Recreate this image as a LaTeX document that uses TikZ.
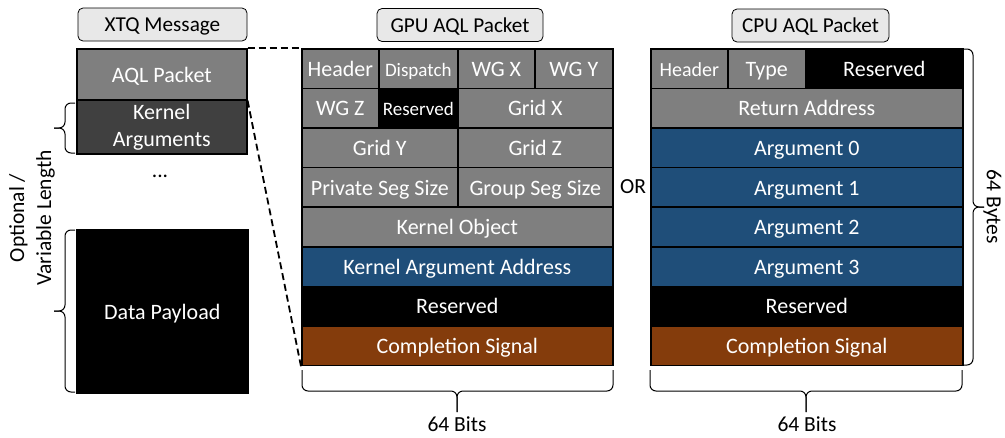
\documentclass[tikz,border=0pt]{standalone}
\usepackage{fontspec}
\setmainfont{Carlito}
\definecolor{cellgray}{HTML}{7F7F7F}
\definecolor{argdark}{HTML}{404040}
\definecolor{argblue}{HTML}{1F4E79}
\definecolor{sigbrown}{HTML}{843C0C}
\definecolor{titlegray}{HTML}{E8E8E8}

\begin{document}
\begin{tikzpicture}[x=1pt,y=-1pt,
  cell/.style={draw=black, line width=1.6pt, anchor=north west, inner sep=0pt, minimum height=39.6pt, text=white, text height=15.5pt, text depth=0pt, font=\fontsize{22}{26}\selectfont},
  small/.style={font=\fontsize{19}{22}\selectfont},
  title/.style={draw=black, line width=0.8pt, fill=titlegray, rounded corners=5pt, minimum height=33pt, inner sep=0pt, text height=15pt, text depth=1pt, font=\fontsize{21.2}{24}\selectfont},
  lbl/.style={inner sep=0pt, font=\fontsize{21.5}{27}\selectfont},
  brc/.style={line width=1pt, rounded corners=6pt},
  zoomline/.style={line width=1.8pt, dash pattern=on 7pt off 4pt}
]
\useasboundingbox (0,0) rectangle (1005,437);

% titles
\node[title, minimum width=169pt] (xtq) at (162.5,24.5) {XTQ Message};
\node[title, minimum width=166pt] (gpu) at (460,25) {GPU AQL Packet};
\node[title, minimum width=157pt] (cpu) at (810.5,25.5) {CPU AQL Packet};

% XTQ message
\node[cell, fill=cellgray, minimum width=170pt, minimum height=51pt] (aql) at (76,48) {AQL Packet};
\node[cell, fill=argdark, minimum width=170pt, minimum height=54pt, align=center, text height=, text depth=, font=\fontsize{22}{27}\selectfont] (kargs) at (76,99) {Kernel\\Arguments};
\node[lbl] (dots) at (160,176) {...};
\node[cell, fill=black, minimum width=171pt, minimum height=163pt] (payload) at (76,229) {Data Payload};
\node[lbl, rotate=90, align=center] (optional) at (32,218) {Optional /\\Variable Length};

% GPU packet
\node[cell, fill=cellgray, minimum width=77pt] (hdrG) at (301,48) {Header};
\node[cell, fill=cellgray, minimum width=79pt, small] (dispG) at (378,48) {Dispatch};
\node[cell, fill=cellgray, minimum width=77pt] (wgx) at (457,48) {WG X};
\node[cell, fill=cellgray, minimum width=78pt] (wgy) at (534,48) {WG Y};
\node[cell, fill=cellgray, minimum width=77pt] (wgz) at (301,87.6) {WG Z};
\node[cell, fill=black, minimum width=79pt, small] (resG1) at (378,87.6) {Reserved};
\node[cell, fill=cellgray, minimum width=155pt] (gridx) at (457,87.6) {Grid X};
\node[cell, fill=cellgray, minimum width=156pt] (gridy) at (301,127.2) {Grid Y};
\node[cell, fill=cellgray, minimum width=155pt] (gridz) at (457,127.2) {Grid Z};
\node[cell, fill=cellgray, minimum width=156pt] (priv) at (301,166.8) {Private Seg Size};
\node[cell, fill=cellgray, minimum width=155pt] (grp) at (457,166.8) {Group Seg Size};
\node[cell, fill=cellgray, minimum width=311pt] (kobj) at (301,206.4) {Kernel Object};
\node[cell, fill=argblue, minimum width=311pt] (kaddr) at (301,246) {Kernel Argument Address};
\node[cell, fill=black, minimum width=311pt] (resG2) at (301,285.6) {Reserved};
\node[cell, fill=sigbrown, minimum width=311pt] (cmpG) at (301,325.2) {Completion Signal};

% CPU packet
\node[cell, fill=cellgray, minimum width=77pt, font=\fontsize{20}{24}\selectfont] (hdrC) at (650,48) {Header};
\node[cell, fill=cellgray, minimum width=78pt] (typeC) at (727,48) {Type};
\node[cell, fill=black, minimum width=157pt] (resC1) at (805,48) {Reserved};
\node[cell, fill=cellgray, minimum width=312pt] (ret) at (650,87.6) {Return Address};
\node[cell, fill=argblue, minimum width=312pt] (arg0) at (650,127.2) {Argument 0};
\node[cell, fill=argblue, minimum width=312pt] (arg1) at (650,166.8) {Argument 1};
\node[cell, fill=argblue, minimum width=312pt] (arg2) at (650,206.4) {Argument 2};
\node[cell, fill=argblue, minimum width=312pt] (arg3) at (650,246) {Argument 3};
\node[cell, fill=black, minimum width=312pt] (resC2) at (650,285.6) {Reserved};
\node[cell, fill=sigbrown, minimum width=312pt] (cmpC) at (650,325.2) {Completion Signal};

\node[lbl] (or) at (633,187) {OR};

% zoom lines
\draw[zoomline] (aql.north east) -- (hdrG.north west);
\draw[zoomline] (aql.south east) -- (cmpG.south west);

% braces
\draw[brc] (75,103) -- (65,103) -- (65,128) -- (54,128);
\draw[brc] (75,153) -- (65,153) -- (65,128) -- (54,128);
\draw[brc] (75,230) -- (65,230) -- (65,311) -- (54,311);
\draw[brc] (75,392) -- (65,392) -- (65,311) -- (54,311);
\draw[brc] (302,370) -- (302,391) -- (457,391) -- (457,412);
\draw[brc] (613,370) -- (613,391) -- (457,391) -- (457,412);
\draw[brc] (650,370) -- (650,391) -- (806,391) -- (806,412);
\draw[brc] (962,370) -- (962,391) -- (806,391) -- (806,412);
\draw[brc] (963,49) -- (973,49) -- (973,207) -- (984,207);
\draw[brc] (963,365) -- (973,365) -- (973,207) -- (984,207);

\node[lbl] (bitsG) at (457,424) {64 Bits};
\node[lbl] (bitsC) at (807,424) {64 Bits};
\node[lbl, rotate=-90] (bytes) at (992.5,207) {64 Bytes};
\end{tikzpicture}
\end{document}
